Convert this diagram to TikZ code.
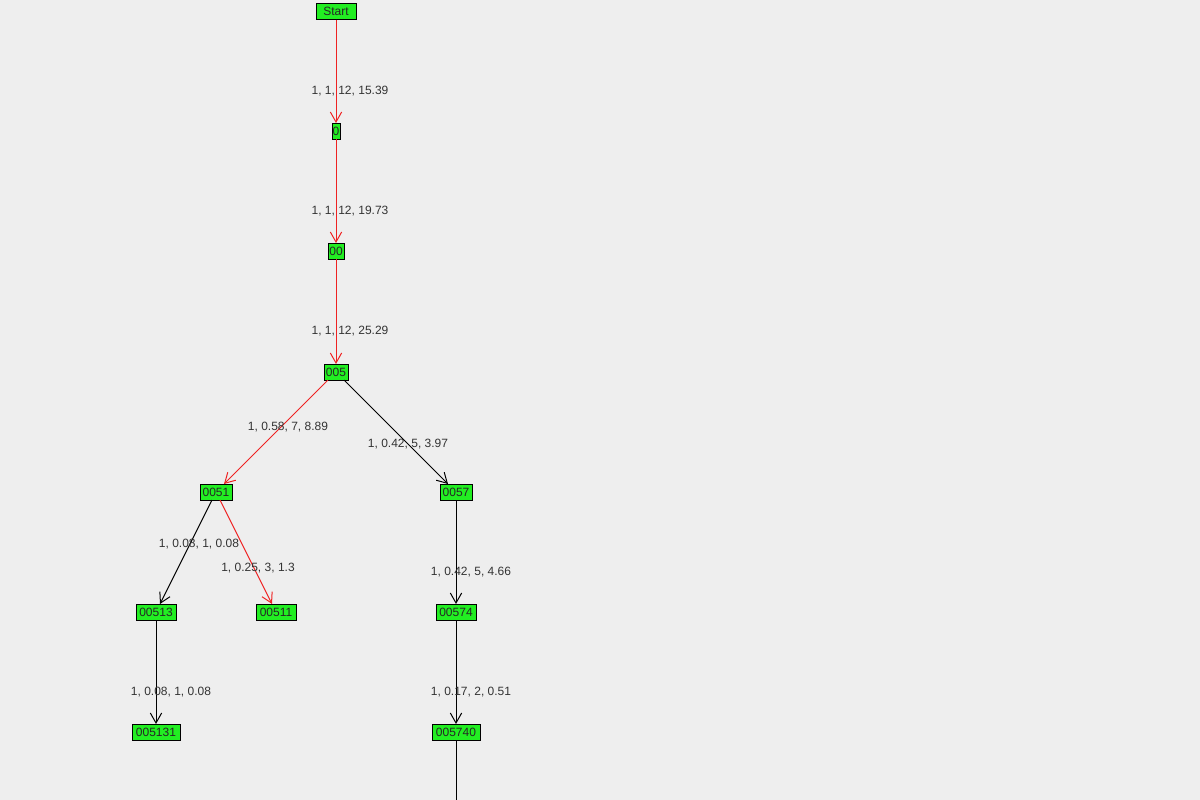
\documentclass[tikz,border=0pt]{standalone}
\usepackage{fontspec}
\setmainfont{Liberation Sans}
\usetikzlibrary{arrows.meta}
\definecolor{bgc}{HTML}{EEEEEE}
\definecolor{boxc}{HTML}{22EE22}
\definecolor{redc}{HTML}{EE2222}
\definecolor{txtc}{HTML}{333333}
\tikzset{
  vbox/.style={draw=black, fill=boxc, line width=0.75pt, inner sep=0pt, outer sep=0pt,
    minimum height=12pt, text height=6.45pt, text depth=0pt,
    font=\fontsize{9}{10}\selectfont, text=black!85},
  edge/.style={line width=0.75pt, -{Straight Barb[length=7.5pt,width=8.5pt,line width=0.75pt]}},
  redge/.style={edge, draw=redc},
  bedge/.style={edge, draw=black},
  elabel/.style={font=\fontsize{9}{10}\selectfont, text=txtc, inner sep=0pt}
}
\begin{document}
\begin{tikzpicture}[x=0.75pt,y=-0.75pt]
\fill[bgc] (0,0) rectangle (1200,800);
\useasboundingbox (0,0) rectangle (1200,800);
\node[vbox, minimum width=30pt] (start) at (336,11.5) {Start};
\node[vbox, minimum width=6pt] (n0) at (336,131) {0};
\node[vbox, minimum width=12pt] (n00) at (336,251) {00};
\node[vbox, minimum width=18pt] (n005) at (336,372) {005};
\node[vbox, minimum width=24pt] (n0051) at (216,492) {0051};
\node[vbox, minimum width=24pt] (n0057) at (456,492) {0057};
\node[vbox, minimum width=30pt] (n00513) at (156,612) {00513};
\node[vbox, minimum width=30pt] (n00511) at (276,612) {00511};
\node[vbox, minimum width=30pt] (n00574) at (456,612) {00574};
\node[vbox, minimum width=36pt] (n005131) at (156,732) {005131};
\node[vbox, minimum width=36pt] (n005740) at (456,732) {005740};
\coordinate (below) at (456,800);

\draw[redge] (start) -- (n0);
\draw[redge] (n0) -- (n00);
\draw[redge] (n00) -- (n005);
\draw[redge] (n005) -- (n0051);
\draw[bedge] (n005) -- (n0057);
\draw[bedge] (n0051) -- (n00513);
\draw[redge] (n0051) -- (n00511);
\draw[bedge] (n0057) -- (n00574);
\draw[bedge] (n00513) -- (n005131);
\draw[bedge] (n00574) -- (n005740);
\draw[line width=0.75pt] (n005740) -- (below);

\node[elabel] (l1) at (350,91) {1, 1, 12, 15.39};
\node[elabel] (l2) at (350,211) {1, 1, 12, 19.73};
\node[elabel] (l3) at (350,331) {1, 1, 12, 25.29};
\node[elabel] (l4) at (288,427) {1, 0.58, 7, 8.89};
\node[elabel] (l5) at (408,444) {1, 0.42, 5, 3.97};
\node[elabel] (l6) at (199,544) {1, 0.08, 1, 0.08};
\node[elabel] (l7) at (258,568) {1, 0.25, 3, 1.3};
\node[elabel] (l8) at (471,572) {1, 0.42, 5, 4.66};
\node[elabel] (l9) at (171,692) {1, 0.08, 1, 0.08};
\node[elabel] (l10) at (471,692) {1, 0.17, 2, 0.51};
\end{tikzpicture}
\end{document}
